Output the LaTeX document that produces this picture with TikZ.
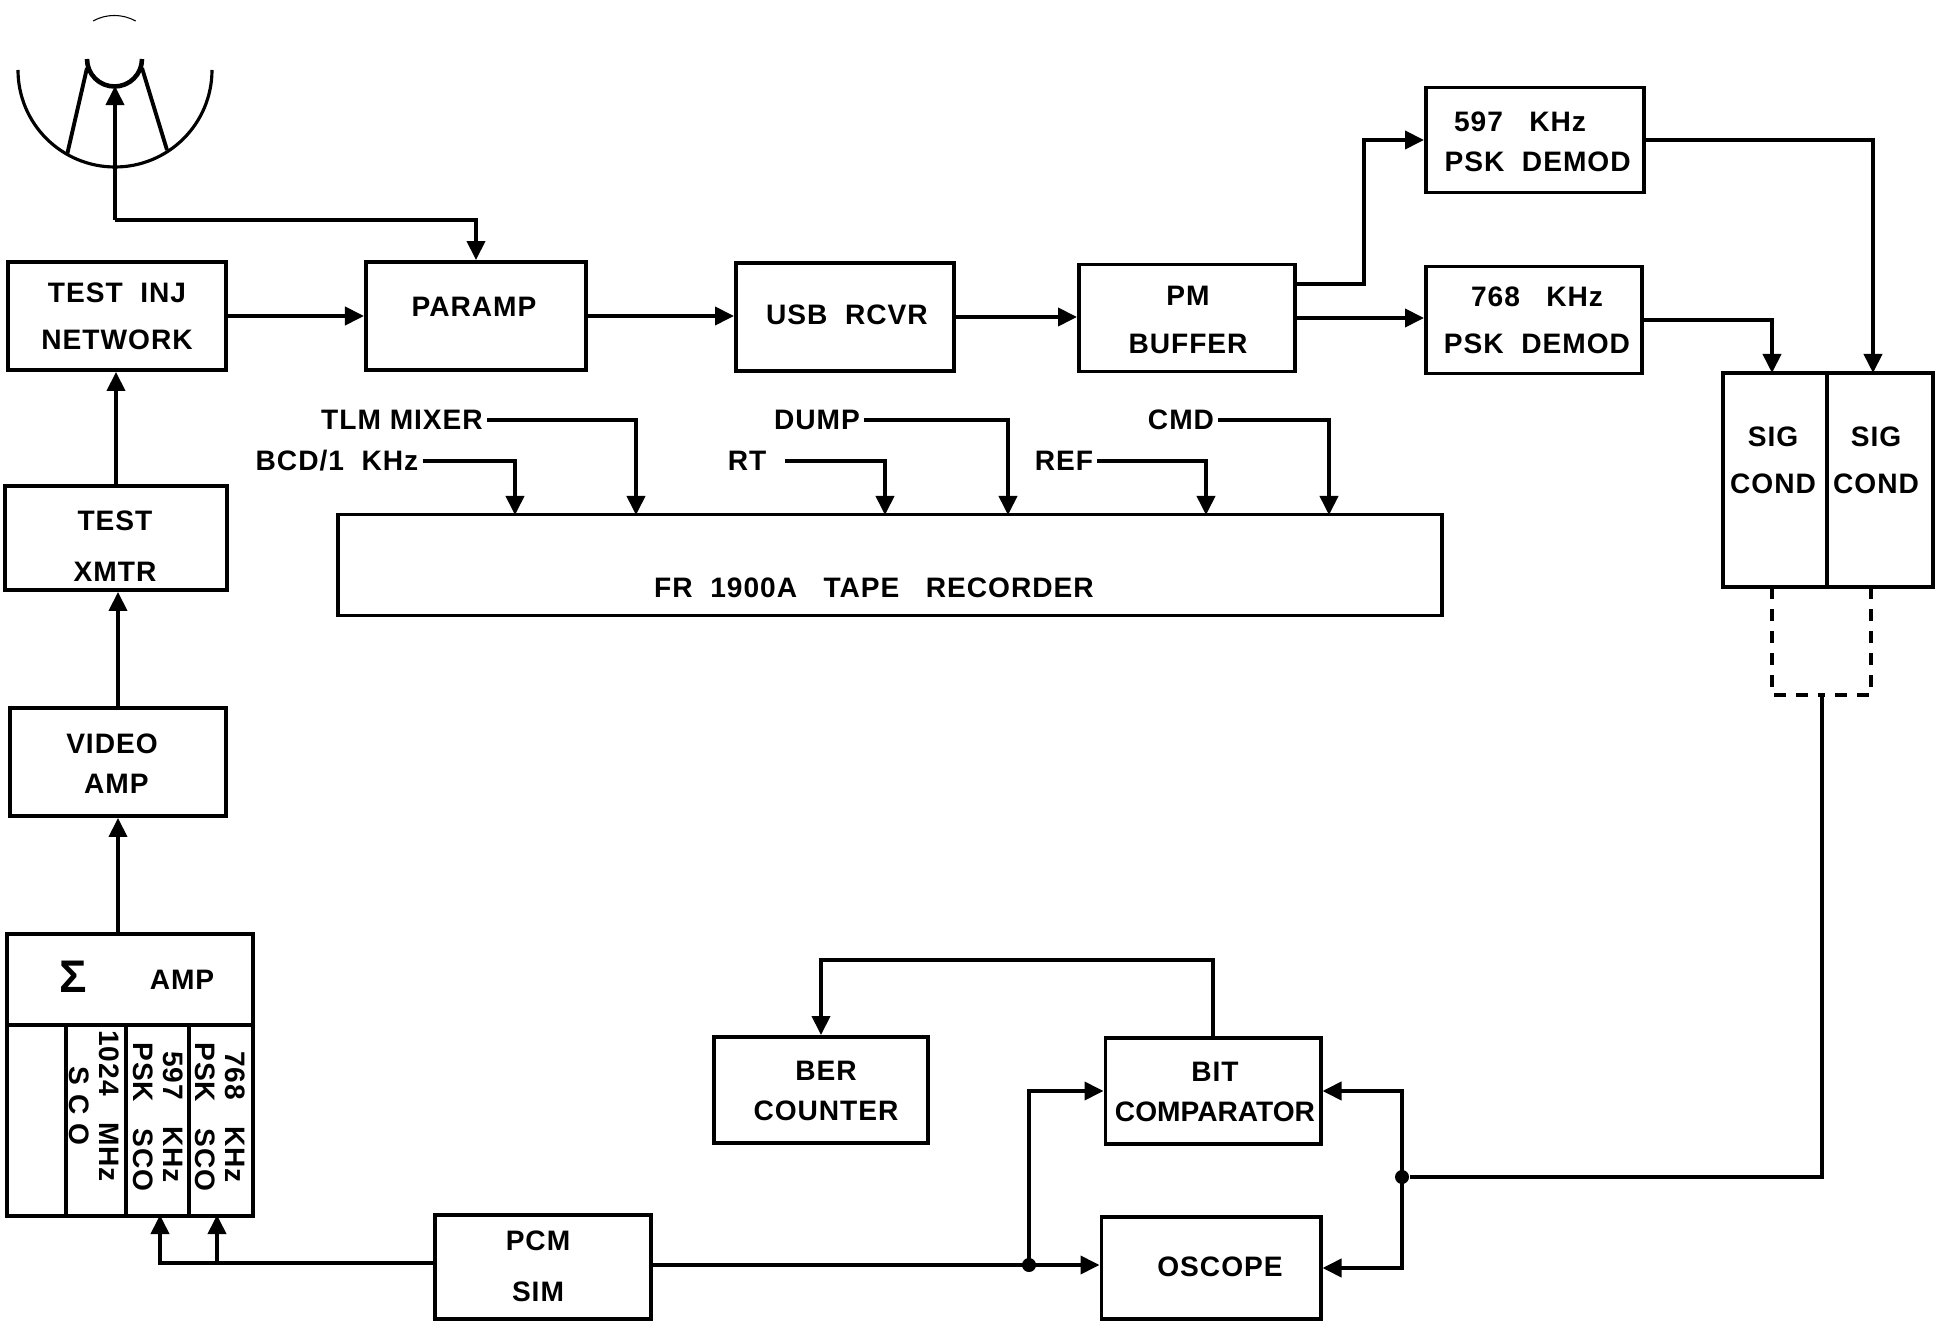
\documentclass[tikz,border=0pt]{standalone}
\usepackage{fontspec}
\setmainfont[LetterSpace=3.5]{Liberation Sans}
\newfontfamily\tightfont{Liberation Sans}
\usetikzlibrary{arrows.meta, positioning, calc}

\tikzset{
  blk/.style={draw, line width=1.1pt, inner sep=0pt},
  txt/.style={inner sep=1pt, align=center, font=\bfseries\fontsize{8}{13.4}\selectfont},
  sco/.style={inner sep=0pt, align=center, rotate=-90, font=\bfseries\fontsize{8}{8.6}\selectfont},
  arr/.style={-{Triangle[length=1.9mm,width=1.8mm]}, line width=1.1pt},
  lin/.style={line width=1.1pt},
  dsh/.style={line width=1.1pt, dash pattern=on 1.2mm off 1mm},
  dot/.style={circle, fill, inner sep=0pt, minimum size=1.4mm}
}

\begin{document}
\begin{tikzpicture}[x=0.01cm,y=-0.01cm]
  \useasboundingbox (0,0) rectangle (1942,1328);

  % antenna
  \draw[line width=0.9pt] (18,70) arc[start angle=180,end angle=0,radius=97];
  \draw[line width=1.3pt] (87,59) arc[start angle=180,end angle=0,radius=27.5];
  \draw[line width=0.3pt] (93,21) arc[start angle=241,end angle=299,radius=44];
  \draw[lin] (67,155) -- (87,68);
  \draw[lin] (167,150) -- (142,68);
  \coordinate (feed) at (115,86);
  \coordinate (antbend) at (115,220);

  % left column
  \node[blk,minimum width=2.18cm,minimum height=1.08cm] (testinj) at (117,316) {};
  \node[txt] (testinjtxt) at (117,316) {TEST\ \ INJ\\NETWORK};
  \node[blk,minimum width=2.22cm,minimum height=1.04cm] (xmtr) at (116,538) {};
  \node[txt] (xmtrtxt) at (115,546) {TEST\\[1pt]XMTR};
  \node[blk,minimum width=2.16cm,minimum height=1.08cm] (video) at (118,762) {};
  \node[txt] (videotxt) at (112,764) {VIDEO\\[-2pt]\ AMP};

  % summing amp with the sco columns
  \node[blk,minimum width=2.45cm,minimum height=2.81cm] (sum) at (130,1075) {};
  \draw[lin] (8,1025) -- (253,1025);
  \draw[lin] (66,1025) -- (66,1215);
  \draw[lin] (126,1025) -- (126,1215);
  \draw[lin] (189,1025) -- (189,1215);
  \node[txt] (sigma) at (73,977) {\fontsize{13}{13}\selectfont Σ};
  \node[txt] (sumamp) at (182,980) {AMP};
  \node[sco] (sco1) at (94,1106) {1024\ \ \ MHz\\S C O};
  \node[sco] (sco2) at (158,1117) {597\ \ \ KHz\\PSK\ \ \ SCO};
  \node[sco] (sco3) at (220,1117) {768\ \ \ KHz\\PSK\ \ \ SCO};

  % top row
  \node[blk,minimum width=2.2cm,minimum height=1.08cm] (paramp) at (476,316) {};
  \node[txt] (paramptxt) at (474,307) {PARAMP};
  \node[blk,minimum width=2.18cm,minimum height=1.08cm] (usb) at (845,317) {};
  \node[txt] (usbtxt) at (847,315) {USB\ \ RCVR};
  \node[blk,minimum width=2.16cm,minimum height=1.07cm] (pmbuf) at (1187,318) {};
  \node[txt] (pmbuftxt) at (1188,320) {PM\\BUFFER};
  \node[blk,minimum width=2.18cm,minimum height=1.05cm] (demodA) at (1535,140) {};
  \node[txt] (demodAtxt) at (1520,142) {597\ \ \ KHz\\[-2pt]\ \ \ \ PSK\ \ DEMOD};
  \node[blk,minimum width=2.16cm,minimum height=1.07cm] (demodB) at (1534,320) {};
  \node[txt] (demodBtxt) at (1537,320) {768\ \ \ KHz\\PSK\ \ DEMOD};

  % signal conditioners
  \node[blk,minimum width=1.04cm,minimum height=2.14cm] (sigl) at (1775,480) {};
  \node[blk,minimum width=1.06cm,minimum height=2.14cm] (sigr) at (1880,480) {};
  \node[txt] (sigltxt) at (1773,460) {SIG\\COND};
  \node[txt] (sigrtxt) at (1876,460) {SIG\\COND};
  \coordinate (siglin) at (1772,373);
  \coordinate (sigrin) at (1873,373);

  % tape recorder
  \node[blk,minimum width=11.03cm,minimum height=1.01cm] (tape) at (890,565) {};
  \node[txt] (tapetxt) at (874,588) {FR\ \ 1900A\ \ \ TAPE\ \ \ RECORDER};
  \node[txt] (tlm) at (402,420) {TLM MIXER};
  \node[txt] (bcd) at (337,461) {BCD/1\ \ KHz};
  \node[txt] (dump) at (817,420) {DUMP};
  \node[txt] (rt) at (747,461) {RT};
  \node[txt] (ref) at (1064,461) {REF};
  \node[txt] (cmd) at (1181,420) {CMD};

  % bottom row
  \node[blk,minimum width=2.16cm,minimum height=1.04cm] (pcm) at (543,1267) {};
  \node[txt] (pcmtxt) at (538,1266) {PCM\\[1pt]SIM};
  \node[blk,minimum width=2.14cm,minimum height=1.06cm] (ber) at (821,1090) {};
  \node[txt] (bertxt) at (826,1091) {BER\\[-2pt]COUNTER};
  \node[blk,minimum width=2.15cm,minimum height=1.06cm] (bit) at (1213,1091) {};
  \node[txt] (bittxt) at (1215,1092) {BIT\\[-2pt]{\tightfont COMPARATOR}};
  \node[blk,minimum width=2.19cm,minimum height=1.02cm] (oscope) at (1211,1268) {};
  \node[txt] (oscopetxt) at (1220,1267) {OSCOPE};

  % forward path
  \draw[arr] (antbend) -- (feed);
  \draw[arr] (antbend) -| (paramp.north);
  \draw[arr] (testinj.east) -- (paramp.west);
  \draw[arr] (xmtr.north) -- (xmtr.north |- testinj.south);
  \draw[arr] (video.north) -- (video.north |- xmtr.south);
  \draw[arr] (sum.north -| video.north) -- (video.south);
  \draw[arr] (paramp.east) -- (paramp.east -| usb.west);
  \draw[arr] (usb.east) -- (usb.east -| pmbuf.west);
  \coordinate (pmup) at (1295,284);
  \draw[arr] (pmup) -- ++(69,0) |- (demodA.west);
  \draw[arr] (pmbuf.east) -- (pmbuf.east -| demodB.west);
  \draw[arr] (demodA.east) -| (sigrin);
  \draw[arr] (demodB.east) -| (siglin);

  % tape inputs
  \draw[arr] (tlm.east) -| (636,515);
  \draw[arr] (bcd.east) -| (515,515);
  \draw[arr] (dump.east) -| (1008,515);
  \draw[arr] (rt.east) ++(15,0) -| (885,515);
  \draw[arr] (ref.east) -| (1206,515);
  \draw[arr] (cmd.east) -| (1329,515);

  % return path
  \coordinate (dashjoin) at (1822,695);
  \draw[dsh] (1772,587) |- (dashjoin);
  \draw[dsh] (1871,587) |- (dashjoin);
  \node[dot] (retdot) at (1402,1177) {};
  \draw[lin] (dashjoin) |- (retdot);
  \draw[arr] (retdot.center) |- (bit.east);
  \draw[arr] (retdot.center) |- (oscope.east);
  \node[dot] (pcmdot) at (1029,1265) {};
  \draw[arr] (pcm.east |- pcmdot) -- (pcmdot -| oscope.west);
  \draw[arr] (pcmdot.center) |- (bit.west);
  \draw[arr] (bit.north) -- ++(0,-76) -| (ber.north);
  \coordinate (scotap) at (160,1263);
  \draw[arr] (pcm.west |- scotap) -- (scotap) -- (160,1215);
  \draw[arr] (217,1263) -- (217,1215);
\end{tikzpicture}
\end{document}
